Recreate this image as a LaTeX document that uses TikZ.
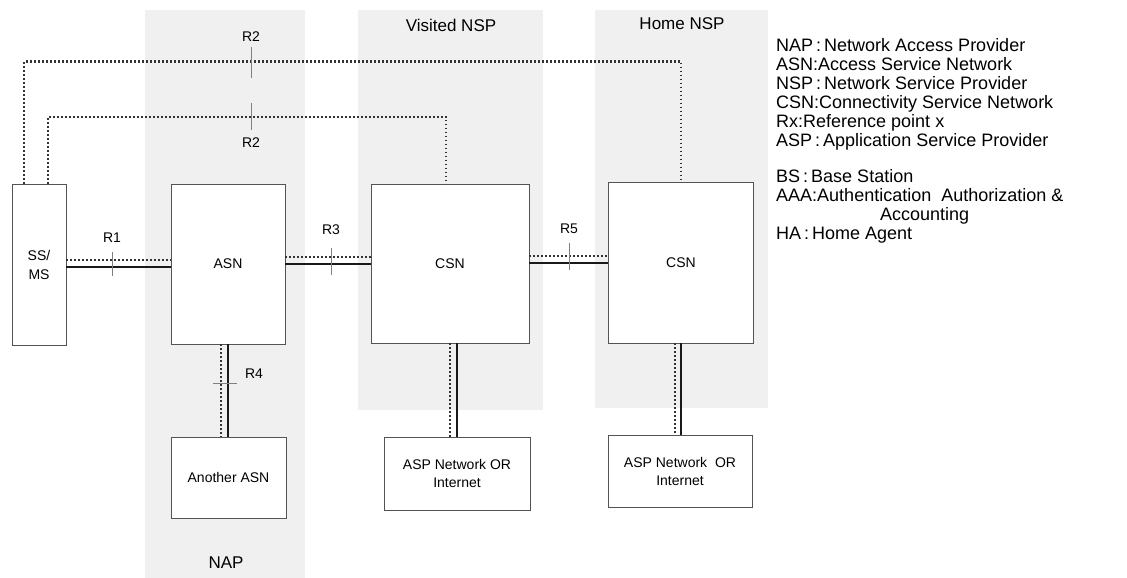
\documentclass[tikz,border=0pt]{standalone}
\usepackage{fontspec}
\setmainfont{Liberation Sans}
\usetikzlibrary{positioning}

\tikzset{
  band/.style={fill=gray!12, draw=none},
  netbox/.style={draw=gray!65!black, line width=0.8pt, fill=white, align=center, inner sep=0pt},
  dotlink/.style={line width=2.2pt, dash pattern=on 1.8pt off 2.2pt, black!80},
  solidlink/.style={line width=1.8pt, black!90},
  tick/.style={gray, line width=0.6pt},
  rlabel/.style={font=\fontsize{14}{15}\selectfont},
  boxtext/.style={font=\fontsize{14}{19}\selectfont},
}

\begin{document}
\begin{tikzpicture}[x=1pt, y=-1pt]
  \useasboundingbox (0,0) rectangle (1127,578);
  % provider bands
  \fill[band] (145,10) rectangle (305,578);
  \fill[band] (358,10) rectangle (543,410);
  \fill[band] (595,10) rectangle (768,408);
  \node[font=\fontsize{17}{19}\selectfont] (nap) at (226,563) {NAP};
  \node[font=\fontsize{17}{19}\selectfont] (vnsp) at (451,25) {Visited NSP};
  \node[font=\fontsize{17}{19}\selectfont] (hnsp) at (682,24) {Home NSP};

  % network boxes
  \node[netbox, boxtext, minimum width=54pt, minimum height=161pt] (ss) at (39,264.5) {SS/\\MS};
  \node[netbox, boxtext, minimum width=114pt, minimum height=160pt] (asn) at (228,264) {ASN};
  \node[netbox, boxtext, minimum width=158pt, minimum height=159pt] (vcsn) at (450,263.5) {CSN};
  \node[netbox, boxtext, minimum width=145pt, minimum height=161pt] (hcsn) at (681,262.5) {CSN};
  \node[netbox, font=\fontsize{14}{18}\selectfont, minimum width=115pt, minimum height=81pt] (aasn) at (228.5,477.5) {Another ASN};
  \node[netbox, font=\fontsize{14}{18}\selectfont, minimum width=146pt, minimum height=73pt] (vasp) at (457,473.5) {ASP Network OR\\Internet};
  \node[netbox, font=\fontsize{14}{18}\selectfont, minimum width=144pt, minimum height=72pt] (hasp) at (680,471) {ASP Network\ \ OR\\Internet};

  % R2 paths over the top
  \draw[dotlink] ([xshift=-15pt]ss.north) |- ([yshift=120pt]hcsn.north) -- (hcsn.north);
  \draw[dotlink] ([xshift=9pt]ss.north) |- ([xshift=-4pt, yshift=67pt]vcsn.north) -- ([xshift=-4pt]vcsn.north);
  \node[rlabel] (r2a) at (251,37) {R2};
  \node[rlabel] (r2b) at (251,143) {R2};
  \draw[tick] (251,47) -- (251,78);
  \draw[tick] (251,103) -- (251,130);

  % R1
  \draw[dotlink] ([yshift=4.5pt]ss.east) -- ([yshift=4.5pt]ss.east -| asn.west);
  \draw[solidlink] ([yshift=-2.5pt]ss.east) -- ([yshift=-2.5pt]ss.east -| asn.west);
  \node[rlabel] (r1) at (112,238) {R1};
  \draw[tick] (112,252) -- (112,276);

  % R3
  \draw[dotlink] ([yshift=7pt]asn.east) -- ([yshift=7pt]asn.east -| vcsn.west);
  \draw[solidlink] (asn.east) -- (asn.east -| vcsn.west);
  \node[rlabel] (r3) at (331,230) {R3};
  \draw[tick] (331,248) -- (331,275);

  % R5
  \draw[dotlink] ([yshift=7.5pt]vcsn.east) -- ([yshift=7.5pt]vcsn.east -| hcsn.west);
  \draw[solidlink] ([yshift=0.5pt]vcsn.east) -- ([yshift=0.5pt]vcsn.east -| hcsn.west);
  \node[rlabel] (r5) at (569,229) {R5};
  \draw[tick] (569,243) -- (569,270);

  % R4
  \draw[dotlink] ([xshift=-7pt]asn.south) -- ([xshift=-7pt]asn.south |- aasn.north);
  \draw[solidlink] (asn.south) -- (asn.south |- aasn.north);
  \node[rlabel] (r4) at (254,374) {R4};
  \draw[tick] (213,383) -- (237,383);

  % CSN to ASP / Internet
  \draw[dotlink] (vcsn.south) -- (vcsn.south |- vasp.north);
  \draw[solidlink] ([xshift=7pt]vcsn.south) -- ([xshift=7pt]vcsn.south |- vasp.north);
  \draw[dotlink] ([xshift=-6pt]hcsn.south) -- ([xshift=-6pt]hcsn.south |- hasp.north);
  \draw[solidlink] (hcsn.south) -- (hcsn.south |- hasp.north);

  % legend
  \node[anchor=north west, inner sep=0pt, align=left, font=\fontsize{18}{19}\selectfont] (legend) at (776,38) {%
    NAP\,:\,Network Access Provider\\
    ASN:Access Service Network\\
    NSP\,:\,Network Service Provider\\
    CSN:Connectivity Service Network\\
    Rx:Reference point x\\
    ASP\,:\,Application Service Provider\\[17pt]
    BS\,:\,Base Station\\
    AAA:Authentication\ \ Authorization \&\\
    \hspace*{104pt}Accounting\\
    HA\,:\,Home Agent};
\end{tikzpicture}
\end{document}
